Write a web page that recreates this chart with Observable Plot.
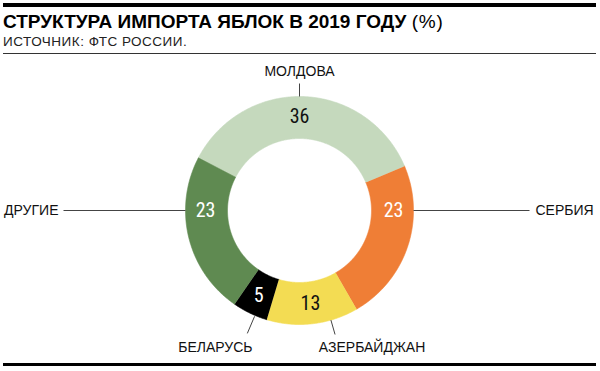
<!DOCTYPE html>
<html><head><meta charset="utf-8">
<script src="https://cdn.jsdelivr.net/npm/d3@7"></script>
<script src="https://cdn.jsdelivr.net/npm/@observablehq/plot@0.6"></script>
<style>
body{margin:0;background:#fff;}
#page{position:relative;width:600px;height:371px;overflow:hidden;font-family:"Liberation Sans",Arial,sans-serif;color:#000;}
.bar{position:absolute;background:#000;}
#title{position:absolute;left:3px;top:11.5px;font-size:19px;line-height:19px;font-weight:bold;white-space:nowrap;}
#title span{font-weight:normal;letter-spacing:0.8px;}
#sub{position:absolute;left:3px;top:34.6px;font-size:13.5px;line-height:13.5px;letter-spacing:0.5px;white-space:nowrap;color:#222;}
#chart{position:absolute;left:0;top:55px;}
</style></head><body>
<div id="page">
<div class="bar" style="left:3px;top:3px;width:593px;height:4px"></div>
<div id="title">СТРУКТУРА ИМПОРТА ЯБЛОК В 2019 ГОДУ <span>(%)</span></div>
<div id="sub">ИСТОЧНИК: ФТС РОССИИ.</div>
<div class="bar" style="left:3px;top:53px;width:593px;height:1px;background:#333"></div>
<div id="chart"></div>
<div class="bar" style="left:3px;top:363px;width:593px;height:3px"></div>
</div>
<script>
// ---- data ----
const slices = ["Молдова", "Сербия", "Азербайджан", "Беларусь", "Другие"];
const shares = [36, 23, 13, 5, 23];
const sliceLabels = ["МОЛДОВА", "СЕРБИЯ", "АЗЕРБАЙДЖАН", "БЕЛАРУСЬ", "ДРУГИЕ"];
const sliceColors = ["#c5d9bd", "#ef7e36", "#f3dc53", "#000000", "#5f8a51"];
const valueColors = ["#111", "#fff", "#111", "#fff", "#fff"];

// ---- annotation layout ----
const startAngle = -62.5;           // degrees, clockwise from top
const R = 114, r0 = 72, rLabel = 94;
const valueLabelAngle = [0, 90, null, null, 270];   // null = slice centroid
const leaderAngle = [0, 90, 164, 203, 270];
const leaderR0 = [114, 114, 114, 115, 114];
const leaderR1 = [127, 230, 129, 133.5, 236];
const labelAnchor = ["middle", "start", "middle", "middle", "end"];
const labelDx = [0, 6, 37, -32, -5];
const labelDy = [-11.5, 0, 13, 14, 0];

const total = d3.sum(shares);
const rad = a => a * Math.PI / 180;
const polar = (a, rr) => ({x: rr * Math.sin(rad(a)), y: rr * Math.cos(rad(a))});

let acc = 0;
const rows = slices.map((name, i) => {
  const a0 = startAngle + acc / total * 360;
  acc += shares[i];
  const a1 = startAngle + acc / total * 360;
  return {name, value: shares[i], a0, a1, i};
});

// arc polygons
const arcPts = [];
for (const s of rows) {
  const n = Math.max(2, Math.ceil((s.a1 - s.a0) / 0.5));
  for (let k = 0; k <= n; k++) arcPts.push({name: s.name, ...polar(s.a0 + (s.a1 - s.a0) * k / n, R)});
  for (let k = n; k >= 0; k--) arcPts.push({name: s.name, ...polar(s.a0 + (s.a1 - s.a0) * k / n, r0)});
}

const values = rows.map(s => {
  const a = valueLabelAngle[s.i] ?? (s.a0 + s.a1) / 2;
  return {...s, ...polar(a, rLabel), color: valueColors[s.i]};
});

const leaders = rows.map(s => {
  const p0 = polar(leaderAngle[s.i], leaderR0[s.i]);
  const p1 = polar(leaderAngle[s.i], leaderR1[s.i]);
  return {name: s.name, x1: p0.x, y1: p0.y, x2: p1.x, y2: p1.y,
          lx: p1.x + labelDx[s.i], ly: p1.y - labelDy[s.i],
          label: sliceLabels[s.i], anchor: labelAnchor[s.i]};
});

const numFont = "'Liberation Sans Narrow', 'Roboto Condensed', 'DejaVu Sans Condensed', sans-serif";
const catFont = "'Liberation Sans', Arial, sans-serif";

const chart = Plot.plot({
  width: 600, height: 305, margin: 0,
  x: {domain: [-299, 301], axis: null},
  y: {domain: [-150, 155], axis: null},
  color: {domain: slices, range: sliceColors},
  marks: [
    Plot.line(arcPts, {x: "x", y: "y", z: "name", fill: "name", stroke: "name", strokeWidth: 0.6, curve: "linear"}),
    Plot.link(leaders, {x1: "x1", y1: "y1", x2: "x2", y2: "y2", stroke: "#444", strokeWidth: 1}),
    ...["middle", "start", "end"].map(anc =>
      Plot.text(leaders.filter(d => d.anchor === anc), {x: "lx", y: "ly", text: "label", textAnchor: anc,
        lineAnchor: "middle", fontFamily: catFont, fontSize: 14, fill: "#111"})),
    ...["#111", "#fff"].map(c =>
      Plot.text(values.filter(d => d.color === c), {x: "x", y: "y", text: d => String(d.value),
        lineAnchor: "middle", fontFamily: numFont, fontSize: 20, fill: c}))
  ]
});
document.getElementById("chart").appendChild(chart);
</script>
</body></html>
